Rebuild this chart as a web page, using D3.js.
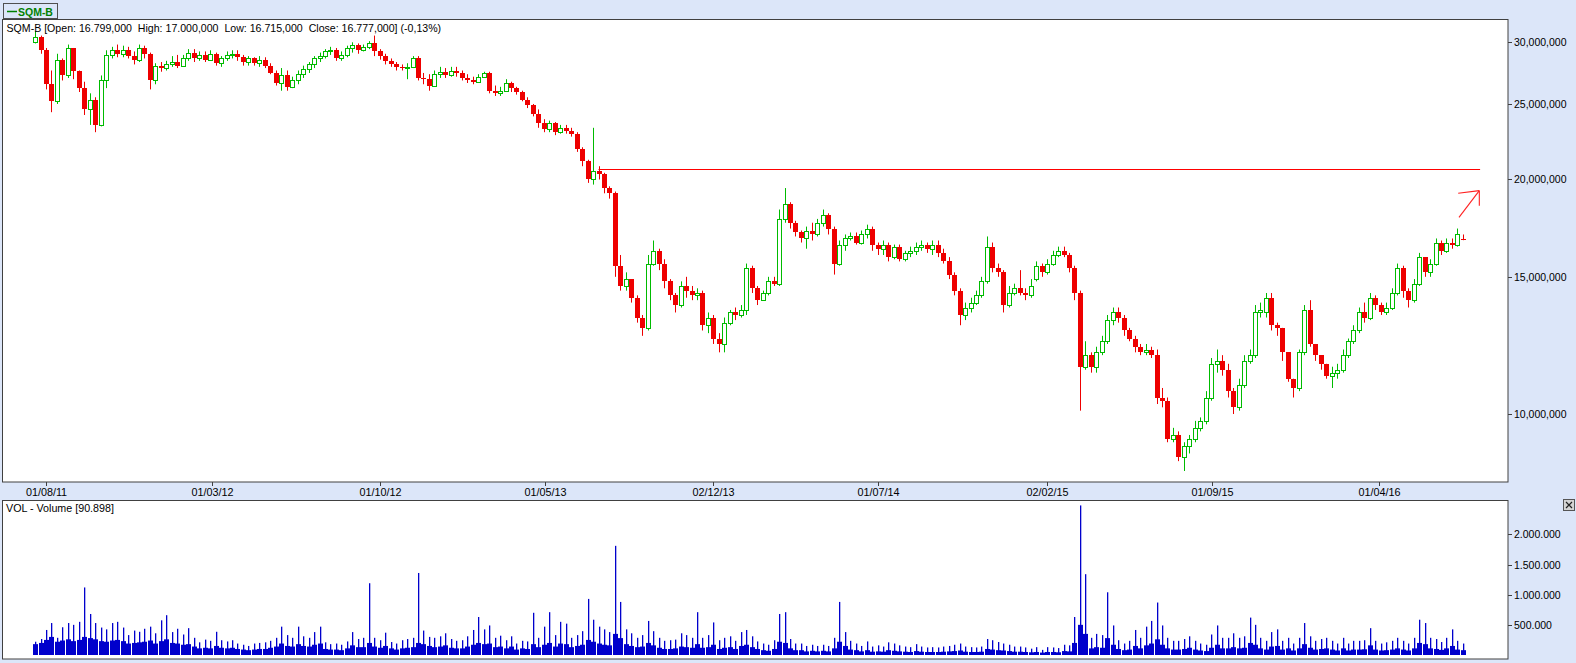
<!DOCTYPE html>
<html><head><meta charset="utf-8">
<script src="https://cdnjs.cloudflare.com/ajax/libs/d3/7.8.5/d3.min.js"></script>
<style>
html,body{margin:0;padding:0;background:#dce6f9;overflow:hidden;}
svg{display:block;font-family:"Liberation Sans",Arial,sans-serif;}
</style></head><body>
<svg id="c" width="1576" height="663"></svg>
<script>
// ---------------- DATA (weekly candles, prices in millions) ----------------
const symbol = "SQM-B";
const firstWeek = "2011-07-18";
const openM = [
30.0,30.5,29.3,26.5,25.2,28.5,27.2,29.5,27.6,26.2,
24.6,25.3,23.5,26.8,28.9,29.3,29.0,29.3,28.8,28.5,
29.5,29.0,26.8,28.0,27.8,28.1,28.3,28.0,28.6,29.1,
28.6,28.9,28.5,29.0,28.2,28.6,28.9,29.0,28.7,28.3,
28.6,28.2,28.5,28.0,27.4,26.6,27.2,26.3,26.8,27.3,
27.7,28.1,28.6,28.8,29.2,29.3,28.6,28.9,29.5,29.8,
29.3,29.6,29.9,29.2,28.8,28.4,28.1,27.9,27.8,27.9,
28.6,27.0,26.9,26.4,27.3,27.5,27.2,27.6,27.4,27.0,
26.8,26.7,27.1,27.4,26.0,25.8,26.0,26.6,26.2,25.9,
25.3,24.9,24.3,23.6,23.2,23.6,23.0,23.3,23.1,22.9,
21.9,21.1,20.0,20.5,20.3,19.5,19.2,15.5,14.6,14.9,
14.1,13.3,12.9,15.6,16.2,15.6,14.8,14.2,13.8,14.6,
14.4,14.2,14.3,13.0,13.3,12.5,12.3,13.1,13.5,13.4,
13.6,15.4,14.5,14.0,14.3,14.8,14.7,17.8,18.6,17.6,
17.1,16.8,17.2,17.0,17.6,18.0,17.3,15.6,16.5,16.8,
16.9,16.6,17.0,17.3,16.5,16.3,16.5,15.9,16.4,15.8,
16.1,16.2,16.4,16.5,16.3,16.5,16.1,15.7,15.1,14.4,
13.4,13.7,13.9,14.2,14.8,16.4,15.4,15.2,13.8,14.3,
14.5,14.3,14.2,14.9,15.5,15.2,15.6,16.0,16.2,16.0,
15.4,14.3,11.5,11.9,11.5,12.0,12.4,13.2,13.5,13.3,
12.8,12.5,12.2,12.0,12.1,11.9,10.5,10.4,9.3,9.4,
8.8,9.1,9.3,9.6,9.8,10.5,11.6,11.7,11.4,10.7,
10.2,10.9,11.7,11.9,13.5,13.5,14.1,13.0,12.9,12.0,
11.1,10.8,12.0,13.6,12.3,11.9,11.6,11.2,11.3,11.4,
11.9,12.4,12.8,13.5,13.3,14.1,13.8,13.5,13.7,14.3,
15.4,14.4,14.0,14.7,15.9,15.2,15.6,16.6,16.2,16.6,
16.5,16.799];
const highM = [
31.0,30.6,29.5,27.6,29.0,28.6,29.8,29.5,27.6,26.7,
25.8,25.5,27.2,29.3,29.6,29.8,29.7,29.6,29.2,29.8,
29.7,29.1,28.2,28.3,28.4,28.8,28.9,28.9,29.4,29.4,
29.2,29.2,29.3,29.1,28.8,29.2,29.3,29.3,28.9,28.8,
28.7,28.8,28.7,28.2,27.6,27.8,27.6,27.1,27.6,28.0,
28.3,28.8,29.1,29.4,29.6,29.5,29.2,29.7,30.0,29.9,
29.8,30.1,30.6,29.4,29.0,28.6,28.3,28.1,28.2,28.8,
28.8,27.4,27.3,27.6,27.9,27.8,27.9,27.9,27.6,27.3,
27.1,27.3,27.5,27.5,26.4,26.3,26.9,26.7,26.3,26.0,
25.5,25.0,24.6,23.9,23.8,23.7,23.5,23.5,23.3,23.0,
22.0,21.2,23.3,20.8,20.4,19.6,19.3,16.0,15.2,14.9,
14.2,13.4,16.0,16.7,16.3,15.8,14.9,14.3,14.8,15.0,
14.6,14.5,14.4,13.5,13.4,12.7,13.3,13.6,13.7,13.8,
15.6,15.5,14.6,14.4,15.0,15.0,18.3,19.5,18.7,17.7,
17.2,17.4,17.6,17.8,18.3,18.1,17.4,16.7,17.0,17.1,
17.1,17.2,17.5,17.4,16.6,16.7,16.6,16.5,16.5,16.2,
16.4,16.6,16.7,16.6,16.7,16.7,16.3,15.9,15.2,14.5,
13.9,14.1,14.4,15.0,16.9,16.6,15.6,15.3,14.6,14.7,
15.3,14.5,14.9,15.7,15.6,15.8,16.2,16.4,16.4,16.1,
15.5,14.4,12.4,12.0,12.2,12.6,13.4,13.7,13.7,13.4,
12.9,12.6,12.3,12.3,12.2,12.1,10.8,10.5,9.6,9.5,
9.2,9.4,9.8,9.9,10.7,11.8,12.1,11.9,11.6,10.8,
11.1,11.9,12.1,13.8,13.9,14.3,14.3,13.1,12.9,12.0,
11.1,12.1,13.8,14.0,12.3,11.9,11.6,11.5,11.6,12.1,
12.5,13.0,13.7,13.9,14.3,14.2,13.9,13.9,14.5,15.6,
15.5,14.5,14.9,16.1,15.9,15.8,16.8,16.7,16.8,16.8,
17.3,17.0];
const lowM = [
29.9,29.0,26.1,24.4,25.0,26.8,27.0,26.9,25.9,24.2,
23.5,23.0,23.4,26.2,28.6,28.7,28.7,28.6,28.1,28.3,
28.6,26.1,26.5,27.5,27.6,27.9,27.8,27.9,28.4,28.3,
28.4,28.3,28.4,28.0,27.9,28.4,28.6,28.4,28.0,28.0,
28.0,27.9,27.8,27.3,26.4,26.0,26.0,26.2,26.5,27.0,
27.4,27.8,28.3,28.6,28.9,28.4,28.4,28.7,29.1,29.0,
29.2,29.4,28.8,28.5,28.1,27.9,27.6,27.6,26.9,27.8,
26.8,26.5,26.0,26.3,27.0,27.0,27.1,27.1,26.8,26.6,
26.5,26.6,27.0,25.8,25.6,25.6,25.9,25.9,25.7,25.2,
24.7,24.1,23.3,23.0,23.0,22.8,22.9,22.9,22.7,21.7,
20.8,19.8,19.7,20.0,19.2,18.9,15.0,14.4,14.4,13.9,
13.1,12.6,12.8,15.5,15.3,14.5,14.0,13.5,13.7,14.1,
14.0,14.0,12.8,12.7,12.3,12.0,12.0,13.0,13.2,13.3,
13.4,14.3,13.8,14.0,14.2,14.6,14.6,17.6,17.3,16.9,
16.6,16.3,16.7,16.9,17.4,17.0,15.1,15.5,16.2,16.7,
16.5,16.5,16.8,16.2,16.0,16.0,15.7,15.8,15.7,15.7,
15.9,16.0,16.2,16.1,16.0,15.9,15.6,14.9,14.2,13.0,
13.2,13.5,13.8,14.1,14.7,15.2,15.0,13.5,13.7,14.2,
14.2,14.0,14.1,14.8,15.0,15.1,15.5,15.9,15.9,15.2,
14.0,10.1,11.4,11.3,11.3,11.9,12.3,13.0,13.1,12.6,
12.4,12.0,11.9,11.9,11.8,10.3,10.2,9.2,9.2,8.7,
8.45,8.9,9.2,9.5,9.7,10.4,11.3,11.2,10.5,10.0,
10.1,10.8,11.6,11.8,13.3,13.3,12.8,12.6,11.7,11.0,
10.5,10.7,11.9,12.2,11.7,11.4,11.1,10.8,11.1,11.3,
11.8,12.3,12.7,13.1,13.2,13.6,13.4,13.4,13.6,14.2,
14.1,13.7,13.9,14.6,15.0,15.0,15.5,16.0,16.1,16.3,
16.4,16.715];
const closeM = [
30.5,29.3,26.5,25.2,28.5,27.2,29.5,27.6,26.2,24.6,
25.3,23.5,26.8,28.9,29.3,29.0,29.3,28.8,28.5,29.5,
29.0,26.8,28.0,27.8,28.1,28.3,28.0,28.6,29.1,28.6,
28.9,28.5,29.0,28.2,28.6,28.9,29.0,28.7,28.3,28.6,
28.2,28.5,28.0,27.4,26.6,27.2,26.3,26.8,27.3,27.7,
28.1,28.6,28.8,29.2,29.3,28.6,28.9,29.5,29.8,29.3,
29.6,29.9,29.2,28.8,28.4,28.1,27.9,27.8,27.9,28.6,
27.0,26.9,26.4,27.3,27.5,27.2,27.6,27.4,27.0,26.8,
26.7,27.1,27.4,26.0,25.8,26.0,26.6,26.2,25.9,25.3,
24.9,24.3,23.6,23.2,23.6,23.0,23.3,23.1,22.9,21.9,
21.1,20.0,20.5,20.3,19.5,19.2,15.5,14.6,14.9,14.1,
13.3,12.9,15.6,16.2,15.6,14.8,14.2,13.8,14.6,14.4,
14.2,14.3,13.0,13.3,12.5,12.3,13.1,13.5,13.4,13.6,
15.4,14.5,14.0,14.3,14.8,14.7,17.8,18.6,17.6,17.1,
16.8,17.2,17.0,17.6,18.0,17.3,15.6,16.5,16.8,16.9,
16.6,17.0,17.3,16.5,16.3,16.5,15.9,16.4,15.8,16.1,
16.2,16.4,16.5,16.3,16.5,16.1,15.7,15.1,14.4,13.4,
13.7,13.9,14.2,14.8,16.4,15.4,15.2,13.8,14.3,14.5,
14.3,14.2,14.6,15.5,15.2,15.6,16.0,16.2,16.0,15.4,
14.3,11.5,11.9,11.5,12.0,12.4,13.2,13.5,13.3,12.8,
12.5,12.2,12.0,12.1,11.9,10.5,10.4,9.3,9.4,8.8,
9.1,9.3,9.6,9.8,10.5,11.6,11.7,11.4,10.7,10.2,
10.9,11.7,11.9,13.5,13.6,14.1,13.0,12.9,12.0,11.1,
10.8,12.0,13.6,12.3,11.9,11.6,11.2,11.3,11.4,11.9,
12.4,12.8,13.5,13.3,14.1,13.8,13.5,13.7,14.3,15.4,
14.4,14.0,14.7,15.9,15.2,15.6,16.6,16.2,16.6,16.5,
17.0,16.777];
// weekly volume (thousands): peak day and typical day of each week
const volPeakK = [
220,265,415,530,285,460,530,500,550,1120,
680,530,455,425,530,550,455,330,405,385,
435,470,360,575,660,380,435,340,445,285,
210,255,235,385,245,225,245,190,170,150,
190,200,210,235,285,470,330,285,470,310,
285,380,470,210,180,190,170,225,380,265,
285,1190,285,245,370,215,190,245,265,285,
1360,405,300,285,310,360,265,235,245,310,
415,630,425,490,285,320,245,310,190,235,
225,700,285,470,710,330,550,520,285,330,
395,930,585,470,425,380,1810,880,425,360,
285,330,565,395,285,235,245,255,360,330,
285,710,285,330,540,245,285,310,235,380,
415,310,225,190,170,245,680,710,265,190,
190,150,170,150,170,150,285,880,380,235,
190,150,225,140,160,140,210,190,160,140,
130,180,140,125,130,125,140,150,170,190,
140,130,125,140,265,245,215,190,170,140,
140,125,105,130,85,130,125,115,170,160,
630,2480,1340,285,350,330,1040,490,245,190,
235,415,285,470,565,870,490,285,235,235,
265,310,235,190,170,340,490,285,285,360,
285,310,620,500,285,235,380,425,235,285,
190,285,530,310,235,265,285,235,190,285,
190,235,235,245,445,235,190,210,235,285,
235,190,285,585,530,285,265,215,285,425,
235,190];
const volBaseK = [
180,200,250,300,220,240,260,230,250,300,
280,260,230,220,240,250,230,190,200,210,
220,240,190,230,260,200,190,170,180,140,
110,120,110,150,120,110,120,100,90,80,
90,100,100,120,140,190,150,140,180,150,
140,170,190,100,90,90,80,110,160,130,
130,200,140,120,150,110,90,110,120,130,
200,180,150,130,140,160,120,110,110,140,
170,200,180,190,130,140,110,140,90,110,
100,180,130,170,200,140,190,180,130,150,
170,250,220,190,170,160,350,280,180,150,
130,140,200,160,120,100,100,110,140,130,
120,180,120,130,170,100,120,130,100,150,
170,130,100,80,70,100,220,200,110,80,
80,60,70,60,70,60,110,220,150,90,
80,60,80,55,60,55,80,70,60,55,
50,65,55,50,50,50,55,60,65,75,
55,50,50,55,100,90,80,75,65,55,
55,50,45,50,40,50,50,45,65,60,
200,500,350,110,130,120,280,170,100,80,
90,150,110,160,190,260,170,110,90,90,
100,120,90,75,65,120,170,110,110,130,
110,120,200,170,110,90,140,150,90,110,
75,110,180,120,90,100,110,90,75,110,
75,90,90,95,160,90,75,80,90,110,
90,75,110,200,180,110,100,85,110,150,
90,80];
const volumeLast = "90.898";

const xTickDates  = ["2011-08-01","2012-03-01","2012-10-01","2013-05-01","2013-12-02","2014-07-01","2015-02-02","2015-09-01","2016-04-01"];
const xTickLabels = ["01/08/11","01/03/12","01/10/12","01/05/13","02/12/13","01/07/14","02/02/15","01/09/15","01/04/16"];
const priceTicks = [10,15,20,25,30];
const priceTickLabels = ["10,000,000","15,000,000","20,000,000","25,000,000","30,000,000"];
const volTicks = [500,1000,1500,2000];
const volTickLabels = ["500.000","1.000.000","1.500.000","2.000.000"];
// annotations (date, price in millions)
const levelLine = {value:20.6, from:"2013-07-08", to:"2016-08-09"};
const arrowStart = {date:"2016-07-13", value:17.88};
const arrowTip   = {date:"2016-08-08", value:19.35};
const arrowWingA = {date:"2016-07-12", value:19.20};
const arrowWingB = {date:"2016-08-08", value:18.51};

// ---------------- LAYOUT ----------------
const W = 1576, H = 663;
const L = 2.5, R = 1508;
const mainTop = 19.5, mainBot = 482;
const volTop = 500, volBot = 659, volZero = 655;
const RED = "#ee0000", GREEN = "#00bb00", BLUE = "#0000cc", FRAME = "#404040";

const parse = d3.timeParse("%Y-%m-%d");
const start = parse(firstWeek);
const dates = closeM.map((_, i) => d3.timeDay.offset(start, 7 * i));

const x = d3.scaleTime().domain([parse("2011-08-01"), parse("2016-04-01")]).range([46, 1378.5]);
const y = d3.scaleLog().domain([8.18, 32.09]).range([mainBot, mainTop]);
const yv = d3.scaleLinear().domain([0, 2570]).range([volZero, volTop]);

const svg = d3.select("#c");
svg.append("rect").attr("width", W).attr("height", H).attr("fill", "#dce6f9");

// legend box
const lg = svg.append("g");
lg.append("rect").attr("x", 3.5).attr("y", 3.5).attr("width", 54).attr("height", 15)
  .attr("fill", "#dce6f9").attr("stroke", "#505050");
lg.append("line").attr("x1", 7).attr("x2", 17).attr("y1", 11.5).attr("y2", 11.5)
  .attr("stroke", "#008000").attr("stroke-width", 1.5);
const lt = lg.append("text").attr("x", 18).attr("y", 15.8).text(symbol)
  .attr("fill", "#008000").style("font-weight", "bold").style("font-size", "11px");

// main panel
svg.append("rect").attr("x", L).attr("y", mainTop).attr("width", R - L).attr("height", mainBot - mainTop)
  .attr("fill", "#fff").attr("stroke", FRAME);
svg.append("clipPath").attr("id", "cm").append("rect")
  .attr("x", L + 0.5).attr("y", mainTop + 0.5).attr("width", R - L - 1).attr("height", mainBot - mainTop - 1);
const gm = svg.append("g").attr("clip-path", "url(#cm)");

// resistance line
gm.append("line")
  .attr("x1", x(parse(levelLine.from))).attr("x2", x(parse(levelLine.to)))
  .attr("y1", Math.round(y(levelLine.value)) + 0.5).attr("y2", Math.round(y(levelLine.value)) + 0.5)
  .attr("stroke", "#ff0000").attr("stroke-width", 1);

// candles
const bars = closeM.map((c, i) => ({d: dates[i], o: openM[i], h: highM[i], l: lowM[i], c}));
const cg = gm.append("g");
bars.forEach(b => {
  const cx = Math.round(x(b.d));
  const up = b.c >= b.o;
  const col = up ? GREEN : RED;
  cg.append("line").attr("x1", cx + 0.5).attr("x2", cx + 0.5)
    .attr("y1", y(b.h)).attr("y2", y(b.l)).attr("stroke", col).attr("stroke-width", 1);
  const yt = Math.round(y(Math.max(b.o, b.c))), yb = Math.round(y(Math.min(b.o, b.c)));
  if (up) {
    cg.append("rect").attr("x", cx - 1.5).attr("y", yt + 0.5).attr("width", 4)
      .attr("height", Math.max(1, yb - yt)).attr("fill", "#fff").attr("stroke", col);
  } else {
    cg.append("rect").attr("x", cx - 2).attr("y", yt).attr("width", 5)
      .attr("height", Math.max(1, yb - yt)).attr("fill", col);
  }
});

// arrow
const ap = (p) => [x(parse(p.date)), y(p.value)];
const [sx, sy] = ap(arrowStart), [tx, ty] = ap(arrowTip), [ax, ay] = ap(arrowWingA), [bx, by] = ap(arrowWingB);
const ag = gm.append("g").attr("stroke", "#ff2020").attr("stroke-width", 1.1).attr("fill", "none");
ag.append("line").attr("x1", sx).attr("y1", sy).attr("x2", tx).attr("y2", ty);
ag.append("line").attr("x1", ax).attr("y1", ay).attr("x2", tx).attr("y2", ty);
ag.append("line").attr("x1", tx).attr("y1", ty).attr("x2", bx).attr("y2", by);

// header text
const last = bars[bars.length - 1];
const fmt = v => v.toFixed(3) + ",000";
const chg = ((last.c - last.o) / last.o * 100).toFixed(2).replace(".", ",");
const hdr = `${symbol} [Open: ${fmt(last.o)}  High: ${fmt(last.h)}  Low: ${fmt(last.l)}  Close: ${fmt(last.c)}] (${chg}%)`;
function fit(t, w) {
  const len = t.node().getComputedTextLength();
  const fs = parseFloat(t.style("font-size"));
  t.style("font-size", (fs * w / len) + "px");
}
fit(lt, 35);
const ht = svg.append("text").attr("x", 6.5).attr("y", 32).text(hdr)
  .style("white-space", "pre").style("font-size", "10.5px").attr("fill", "#000");
fit(ht, 435);

// right price axis
const pa = svg.append("g");
priceTicks.forEach((v, i) => {
  const yy = Math.round(y(v)) + 0.5;
  pa.append("line").attr("x1", R).attr("x2", R + 4).attr("y1", yy).attr("y2", yy).attr("stroke", FRAME);
  pa.append("text").attr("x", R + 6).attr("y", yy).attr("dy", "0.36em").text(priceTickLabels[i])
    .style("font-size", "10.5px").attr("fill", "#000");
});

// x axis
const xa = svg.append("g");
xTickDates.forEach((d, i) => {
  const xx = Math.round(x(parse(d))) + 0.5;
  xa.append("line").attr("x1", xx).attr("x2", xx).attr("y1", mainBot).attr("y2", mainBot + 4).attr("stroke", FRAME);
  xa.append("text").attr("x", xx).attr("y", 496).attr("text-anchor", "middle").text(xTickLabels[i])
    .style("font-size", "10.8px").attr("fill", "#000");
});

// volume panel
svg.append("rect").attr("x", L).attr("y", volTop + 0.5).attr("width", R - L).attr("height", volBot - volTop - 0.5)
  .attr("fill", "#fff").attr("stroke", FRAME);
svg.append("clipPath").attr("id", "cv").append("rect")
  .attr("x", L + 0.5).attr("y", volTop + 1).attr("width", R - L - 1).attr("height", volBot - volTop - 1.5);
const gv = svg.append("g").attr("clip-path", "url(#cv)").attr("fill", BLUE);
bars.forEach((b, i) => {
  const cx = x(b.d);
  gv.append("rect").attr("x", Math.round(cx) - 2).attr("width", 5)
    .attr("y", yv(volBaseK[i])).attr("height", volZero - yv(volBaseK[i]));
  gv.append("rect").attr("x", Math.round(cx)).attr("width", 1.3)
    .attr("y", yv(volPeakK[i])).attr("height", volZero - yv(volPeakK[i]));
});
const vt = svg.append("text").attr("x", 6).attr("y", 512).text(`VOL - Volume [${volumeLast}]`)
  .style("font-size", "10.5px").attr("fill", "#000");
fit(vt, 108);
const va = svg.append("g");
volTicks.forEach((v, i) => {
  const yy = Math.round(yv(v)) + 0.5;
  va.append("line").attr("x1", R).attr("x2", R + 4).attr("y1", yy).attr("y2", yy).attr("stroke", FRAME);
  va.append("text").attr("x", R + 6).attr("y", yy).attr("dy", "0.36em").text(volTickLabels[i])
    .style("font-size", "10.5px").attr("fill", "#000");
});

// close button
const cb = svg.append("g");
cb.append("rect").attr("x", 1563.5).attr("y", 499.5).attr("width", 11).attr("height", 11)
  .attr("fill", "#d4d4d4").attr("stroke", "#555");
cb.append("path").attr("d", "M1566,502 L1572,508 M1572,502 L1566,508").attr("stroke", "#222").attr("stroke-width", 1.2);
</script>
</body></html>
